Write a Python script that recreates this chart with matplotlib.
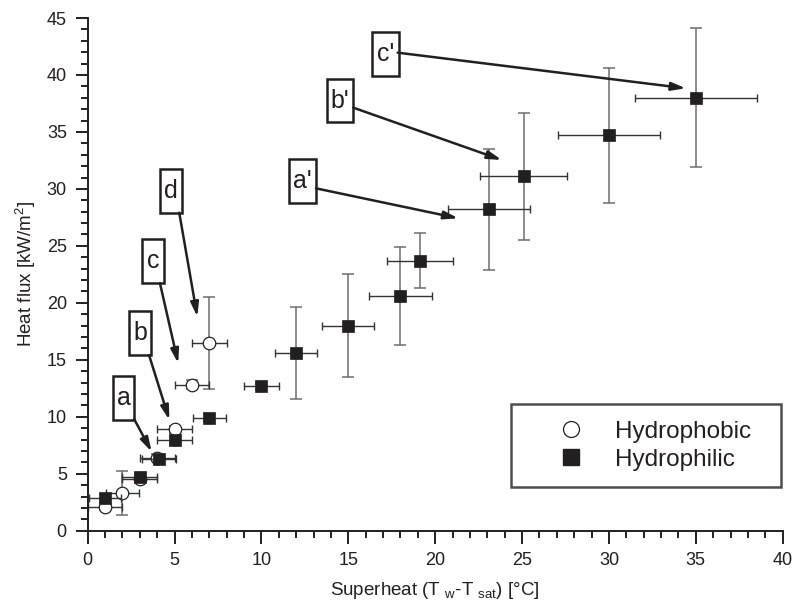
import matplotlib
matplotlib.use("Agg")
import matplotlib.pyplot as plt
from matplotlib.patches import Rectangle, FancyArrowPatch
from matplotlib.lines import Line2D
from matplotlib.ticker import MultipleLocator

plt.rcParams['font.family'] = ['Liberation Sans', 'DejaVu Sans']

# Hydrophilic data
phil_x = [1.0, 3.0, 4.1, 5.0, 7.0, 10.0, 12.0, 15.0, 18.0, 19.1, 23.1, 25.1, 30.0, 35.0]
phil_y = [2.9, 4.7, 6.3, 8.0, 9.9, 12.7, 15.6, 18.0, 20.6, 23.7, 28.2, 31.1, 34.7, 38.0]
phil_xerr = [0.9, 1.0, 1.0, 1.0, 0.95, 1.0, 1.2, 1.5, 1.8, 1.9, 2.35, 2.5, 2.95, 3.5]
phil_yerr = [0.3, 0.3, 0.3, 0.3, 0.3, 0.3, 4.0, 4.5, 4.3, 2.4, 5.3, 5.6, 5.9, 6.1]

# Hydrophobic data
phob_x = [1.0, 2.0, 3.0, 4.0, 5.0, 6.0, 7.0]
phob_y = [2.1, 3.3, 4.5, 6.4, 8.9, 12.8, 16.5]
phob_xerr = [1.0, 0.95, 1.0, 1.0, 1.0, 1.0, 1.0]
phob_yerr = [0.3, 1.9, 0.3, 0.3, 0.3, 0.4, 4.05]

# Annotations: label, box centre, arrow start, arrow tip (data coords)
ann_labels = ["a", "b", "c", "d", "a'", "b'", "c'"]
ann_box = [(2.06, 11.65), (3.01, 17.37), (3.75, 23.7), (4.81, 29.83),
           (12.37, 30.67), (14.52, 37.76), (17.14, 41.82)]
ann_start = [(2.68, 9.78), (3.53, 15.42), (4.16, 21.72), (5.27, 27.91),
             (13.14, 30.05), (15.29, 37.13), (17.84, 41.96)]
ann_tip = [(3.68, 6.93), (4.70, 9.72), (5.21, 14.69), (6.31, 18.78),
           (21.33, 27.42), (23.83, 32.54), (34.43, 38.83)]

fig = plt.figure(figsize=(7.95, 6.09), dpi=100)
ax = fig.add_axes([0.1103, 0.1286, 0.8742, 0.8418])

ax.set_xlim(0, 40)
ax.set_ylim(0, 45)

# hydrophobic error bars & markers
ax.errorbar(phob_x, phob_y, yerr=phob_yerr, fmt='none', ecolor='#6e6e6e',
            elinewidth=1.1, capsize=4.2, capthick=1.1, zorder=2)
ax.errorbar(phob_x, phob_y, xerr=phob_xerr, fmt='none', ecolor='#333333',
            elinewidth=1.0, capsize=3.0, capthick=1.0, zorder=2)
ax.plot(phob_x, phob_y, 'o', ms=9, mfc='white', mec='#222222', mew=0.9, zorder=3,
        linestyle='none')

# hydrophilic
ax.errorbar(phil_x, phil_y, yerr=phil_yerr, fmt='none', ecolor='#6e6e6e',
            elinewidth=1.1, capsize=4.2, capthick=1.1, zorder=4)
ax.errorbar(phil_x, phil_y, xerr=phil_xerr, fmt='none', ecolor='#333333',
            elinewidth=1.0, capsize=3.0, capthick=1.0, zorder=4)
ax.plot(phil_x, phil_y, 's', ms=9, mfc='#231f20', mec='#231f20', mew=0.5, zorder=5,
        linestyle='none')

# annotation boxes and arrows
for lab, (bx, by), s, t in zip(ann_labels, ann_box, ann_start, ann_tip):
    hw = 0.77 if "'" in lab else 0.62
    hh = 1.93
    ax.add_patch(Rectangle((bx - hw, by - hh), 2 * hw, 2 * hh, fill=False,
                           ec='#231f20', lw=1.8, zorder=6, clip_on=False))
    ax.text(bx, by, lab, ha='center', va='center', fontsize=18, color='#231f20',
            zorder=7)
    arr = FancyArrowPatch(s, t, arrowstyle='-|>,head_length=0.7,head_width=0.2',
                          color='#231f20', lw=1.8, mutation_scale=12,
                          shrinkA=0, shrinkB=0, zorder=6)
    ax.add_patch(arr)

# axes styling
for sp in ['top', 'right']:
    ax.spines[sp].set_visible(False)
for sp in ['left', 'bottom']:
    ax.spines[sp].set_linewidth(1.4)
    ax.spines[sp].set_color('#231f20')

ax.xaxis.set_major_locator(MultipleLocator(5))
ax.xaxis.set_minor_locator(MultipleLocator(1))
ax.yaxis.set_major_locator(MultipleLocator(5))
ax.yaxis.set_minor_locator(MultipleLocator(1))
ax.tick_params(which='major', direction='out', length=9, width=1.4,
               labelsize=13, pad=6, colors='#231f20')
ax.tick_params(which='minor', direction='out', length=4.8, width=1.4,
               colors='#231f20')

ax.set_xlabel('Superheat (T $\\mathregular{_w}$-T $\\mathregular{_{sat}}$) [°C]',
              fontsize=13.5, color='#231f20', labelpad=8)
ax.set_ylabel('Heat flux [kW/m$^\\mathregular{2}$]', fontsize=13.5,
              color='#231f20', labelpad=6)

handles = [Line2D([], [], marker='o', ls='none', ms=11.5, mfc='white',
                  mec='#222222', mew=0.9),
           Line2D([], [], marker='s', ls='none', ms=12, mfc='#231f20',
                  mec='#231f20')]
leg = ax.legend(handles, ['Hydrophobic', 'Hydrophilic'],
                bbox_to_anchor=(0.6086, 0.0847, 0.389, 0.1638), loc='lower left',
                mode='expand', fontsize=17.5, frameon=True, fancybox=False,
                borderpad=0.68, labelspacing=0.25, handlelength=3.6,
                handletextpad=0.0, borderaxespad=0)
leg.get_frame().set_edgecolor('#231f20')
leg.get_frame().set_linewidth(1.8)
for t in leg.get_texts():
    t.set_color('#231f20')

fig.savefig('out.png', dpi=100)
